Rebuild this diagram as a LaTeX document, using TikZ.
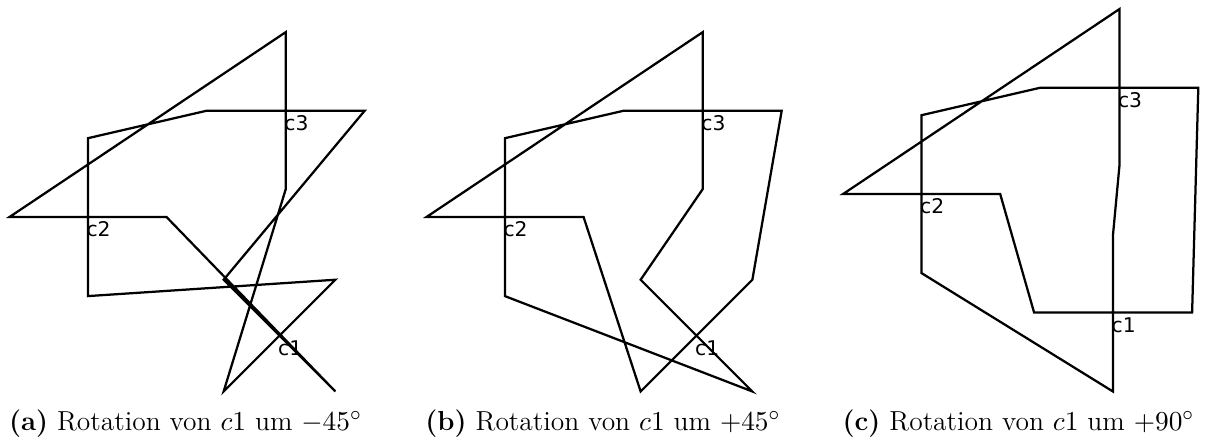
\documentclass[tikz,border=0pt]{standalone}
\usepackage{fontspec}
\usepackage{tikz}
\newfontfamily\jointfont{DejaVu Sans}

\begin{document}
\begin{tikzpicture}[x=0.4pt, y=-0.4pt, line width=0.9pt,
    joint/.style={anchor=base west, inner sep=0pt, xshift=-1pt, yshift=-7.8pt,
      font=\jointfont\fontsize{8.1}{9}\selectfont},
    subcap/.style={anchor=base, inner sep=0pt, font=\fontsize{11}{13}\selectfont}]
      \useasboundingbox (0,0) rectangle (1205,439);

      % (a) -45
      \begin{scope}
        \coordinate (c1a) at (279.5,335.6);
        \draw (9.5,217) -- (285.8,32.1) -- (285.8,189) -- ([shift={(279.5,335.6)}]135:79) -- ([shift={(279.5,335.6)}]-45:79)
          -- (87.9,296.1) -- (87.9,138.2) -- (206.8,110.7) -- (364.7,110.7) -- ([shift={(279.5,335.6)}]-135:79)
          -- ([shift={(279.5,335.6)}]45:79) -- (166.6,217.1) -- cycle;
        \node (c3a) [joint] at (285.8,110.7) {c3};
        \node (c2a) [joint] at (87.9,217.1) {c2};
        \node (c1alabel) [joint] at (c1a) {c1};
      \end{scope}

      % (b) +45
      \begin{scope}[shift={(417,0)}]
        \coordinate (c1b) at (279.5,335.6);
        \draw (9.5,217) -- (285.8,32.1) -- (285.8,189) -- ([shift={(279.5,335.6)}]225:79) -- ([shift={(279.5,335.6)}]45:79)
          -- (87.9,296.1) -- (87.9,138.2) -- (206.8,110.7) -- (364.7,110.7) -- ([shift={(279.5,335.6)}]-45:79)
          -- ([shift={(279.5,335.6)}]135:79) -- (166.6,217.1) -- cycle;
        \node (c3b) [joint] at (285.8,110.7) {c3};
        \node (c2b) [joint] at (87.9,217.1) {c2};
        \node (c1blabel) [joint] at (c1b) {c1};
      \end{scope}

      % (c) +90
      \begin{scope}[shift={(833.6,-23)}]
        \coordinate (c1c) at (279.5,335.6);
        \draw (9.5,217) -- (285.8,32.1) -- (285.8,189) -- ([shift={(279.5,335.6)}]270:79) -- ([shift={(279.5,335.6)}]90:79)
          -- (87.9,296.1) -- (87.9,138.2) -- (206.8,110.7) -- (364.7,110.7) -- ([shift={(279.5,335.6)}]0:79)
          -- ([shift={(279.5,335.6)}]180:79) -- (166.6,217.1) -- cycle;
        \node (c3c) [joint] at (285.8,110.7) {c3};
        \node (c2c) [joint] at (87.9,217.1) {c2};
        \node (c1clabel) [joint] at (c1c) {c1};
      \end{scope}

      \node (capa) [subcap] at (185.5,430) {\textbf{(a)} Rotation von $c1$ um $-45^\circ$};
      \node (capb) [subcap] at (603,430) {\textbf{(b)} Rotation von $c1$ um $+45^\circ$};
      \node (capc) [subcap] at (1018.5,430) {\textbf{(c)} Rotation von $c1$ um $+90^\circ$};
\end{tikzpicture}
\end{document}
